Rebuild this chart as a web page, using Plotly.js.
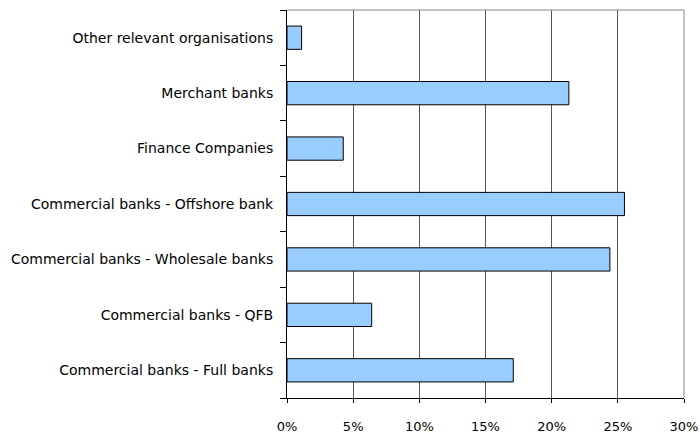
<!DOCTYPE html>
<html><head><meta charset="utf-8">
<script src="https://cdn.plot.ly/plotly-3.0.1.min.js"></script>
<style>html,body{margin:0;padding:0;background:#fff;}#c{width:700px;height:434px;}</style>
</head><body><div id="c"></div>
<script>
const categories = [
  "Commercial banks - Full banks",
  "Commercial banks - QFB",
  "Commercial banks - Wholesale banks",
  "Commercial banks - Offshore bank",
  "Finance Companies",
  "Merchant banks",
  "Other relevant organisations"
];
const shares = [0.171, 0.064, 0.244, 0.255, 0.0425, 0.213, 0.011];
const xTicks = [0, 0.05, 0.10, 0.15, 0.20, 0.25, 0.30];
const xTickLabels = ["0%", "5%", "10%", "15%", "20%", "25%", "30%"];

const fontFam = "DejaVu Sans, Verdana, sans-serif";
Plotly.newPlot("c", [{
  type: "bar",
  orientation: "h",
  y: categories,
  x: shares,
  width: 0.42,
  marker: {color: "#99CCFF", line: {color: "#000", width: 1}},
  hoverinfo: "none"
}], {
  width: 700, height: 434,
  margin: {l: 287, r: 16, t: 10, b: 36, pad: 0},
  paper_bgcolor: "#fff", plot_bgcolor: "#fff",
  showlegend: false,
  font: {family: fontFam, size: 14, color: "#000"},
  bargap: 0.58,
  xaxis: {
    range: [0, 0.30], tickvals: xTicks, ticktext: xTickLabels,
    showgrid: true, gridcolor: "#555", gridwidth: 1,
    showline: true, linecolor: "#000", linewidth: 1,
    ticks: "outside", ticklen: 4, tickcolor: "#000",
    zeroline: false, fixedrange: true, ticklabelstandoff: 12,
    tickfont: {family: fontFam, size: 13}
  },
  yaxis: {
    type: "category", categoryorder: "array", categoryarray: categories,
    range: [-0.5, 6.5],
    showline: true, linecolor: "#000", linewidth: 1,
    ticks: "outside", ticklen: 6, tickcolor: "#000", tickson: "boundaries",
    showgrid: false, zeroline: false, fixedrange: true, ticklabelstandoff: 10,
    tickfont: {family: fontFam, size: 14}
  },
  shapes: [
    {type: "line", xref: "paper", yref: "paper", x0: 0, x1: 1, y0: 1, y1: 1, line: {color: "#888", width: 1}},
    {type: "line", xref: "paper", yref: "paper", x0: 1, x1: 1, y0: 0, y1: 1, line: {color: "#888", width: 1}}
  ]
}, {staticPlot: true});
</script></body></html>
